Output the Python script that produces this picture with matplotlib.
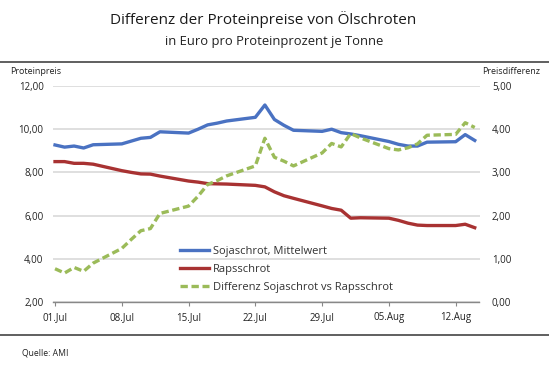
import matplotlib
matplotlib.use("Agg")
import matplotlib.pyplot as plt
import matplotlib.dates as mdates
import numpy as np
import datetime as dt

plt.rcParams['font.family'] = ['Open Sans', 'DejaVu Sans']

dates = ["2019-07-01", "2019-07-02", "2019-07-03", "2019-07-04", "2019-07-05",
         "2019-07-08", "2019-07-09", "2019-07-10", "2019-07-11", "2019-07-12",
         "2019-07-15", "2019-07-16", "2019-07-17", "2019-07-18", "2019-07-19",
         "2019-07-22", "2019-07-23", "2019-07-24", "2019-07-25", "2019-07-26",
         "2019-07-29", "2019-07-30", "2019-07-31", "2019-08-01", "2019-08-02",
         "2019-08-05", "2019-08-06", "2019-08-07", "2019-08-08", "2019-08-09",
         "2019-08-12", "2019-08-13", "2019-08-14"]

soja = [9.27, 9.17, 9.22, 9.13, 9.28,
        9.32, 9.45, 9.58, 9.62, 9.88,
        9.82, 10.00, 10.20, 10.28, 10.38,
        10.55, 11.12, 10.45, 10.18, 9.95,
        9.90, 10.00, 9.84, 9.78, 9.70,
        9.43, 9.30, 9.22, 9.22, 9.40,
        9.42, 9.75, 9.48]

raps = [8.50, 8.50, 8.42, 8.42, 8.38,
        8.08, 8.00, 7.93, 7.92, 7.83,
        7.60, 7.55, 7.48, 7.47, 7.46,
        7.40, 7.33, 7.10, 6.92, 6.80,
        6.45, 6.33, 6.25, 5.88, 5.90,
        5.88, 5.78, 5.65, 5.56, 5.54,
        5.54, 5.60, 5.44]

diff = [0.77, 0.67, 0.80, 0.71, 0.90,
        1.24, 1.45, 1.65, 1.70, 2.05,
        2.22, 2.45, 2.72, 2.81, 2.92,
        3.15, 3.79, 3.35, 3.26, 3.15,
        3.45, 3.67, 3.59, 3.90, 3.80,
        3.55, 3.52, 3.57, 3.66, 3.86,
        3.88, 4.15, 4.04]

labels = ["Sojaschrot, Mittelwert", "Rapsschrot", "Differenz Sojaschrot vs Rapsschrot"]
left_ticks = [2, 4, 6, 8, 10, 12]
right_ticks = [0, 1, 2, 3, 4, 5]
tick_dates = ["2019-07-01", "2019-07-08", "2019-07-15", "2019-07-22",
              "2019-07-29", "2019-08-05", "2019-08-12"]

x = [dt.datetime.strptime(d, "%Y-%m-%d") for d in dates]
xt = [dt.datetime.strptime(d, "%Y-%m-%d") for d in tick_dates]

W, H = 549, 375
fig = plt.figure(figsize=(W / 100, H / 100), dpi=100)

ax_l, ax_r, ax_t, ax_b = 53.3, 479.5, 86, 302
ax = fig.add_axes([ax_l / W, 1 - ax_b / H, (ax_r - ax_l) / W, (ax_b - ax_t) / H])
ax2 = ax.twinx()

blue = "#4A72C2"
red = "#A83232"
green = "#9BBB59"

l1, = ax.plot(x, soja, color=blue, lw=2.4, zorder=3)
l2, = ax.plot(x, raps, color=red, lw=2.4, zorder=3)
l3, = ax2.plot(x, diff, color=green, lw=2.4, linestyle=(0, (2.2, 1.1)), zorder=3)

x0 = mdates.date2num(x[0])
ax.set_xlim(x0 - 0.18, x0 + 44.5)
ax.set_ylim(2, 12)
ax2.set_ylim(0, 5)

ax.set_yticks(left_ticks)
ax.set_yticklabels([f"{v:.2f}".replace(".", ",") for v in left_ticks])
ax2.set_yticks(right_ticks)
ax2.set_yticklabels([f"{v:.2f}".replace(".", ",") for v in right_ticks])
ax.set_xticks(xt)
ax.set_xticklabels([d.strftime("%d.") + ("Jul" if d.month == 7 else "Aug") for d in xt])

for a in (ax, ax2):
    for s in ("top", "right", "left", "bottom"):
        a.spines[s].set_visible(False)
ax.spines["bottom"].set_visible(True)
ax.spines["bottom"].set_color("#888888")
ax.spines["bottom"].set_linewidth(1.0)

ax.grid(axis='y', color="#d9d9d9", lw=1.2, zorder=0)
ax.set_axisbelow(True)
ax.tick_params(axis='y', length=0, pad=7, labelsize=7, colors="#222222")
ax.tick_params(axis='x', length=3, width=0.8, color="#888888", pad=4,
               labelsize=7, labelcolor="#222222")
ax2.tick_params(axis='y', length=0, pad=9, labelsize=7, colors="#222222")

leg = fig.legend([l1, l2, l3], labels, loc='upper left',
                 bbox_to_anchor=(180 / W, 1 - 246 / H), frameon=False,
                 fontsize=8, handlelength=2.6, handletextpad=0.35,
                 labelspacing=0.62, borderpad=0, borderaxespad=0)
for t in leg.get_texts():
    t.set_color("#333333")

fig.text(263 / W, 1 - 19 / H, "Differenz der Proteinpreise von Ölschroten",
         ha='center', va='center', fontsize=11, color="#1a1a1a")
fig.text(274 / W, 1 - 41 / H, "in Euro pro Proteinprozent je Tonne",
         ha='center', va='center', fontsize=9.4, color="#222222")
fig.add_artist(plt.Line2D([0, 1], [1 - 62 / H, 1 - 62 / H], color="#444444", lw=1.2))
fig.add_artist(plt.Line2D([0, 1], [1 - 335 / H, 1 - 335 / H], color="#444444", lw=1.2))
fig.text(10 / W, 1 - 72 / H, "Proteinpreis", ha='left', va='center',
         fontsize=6.5, color="#222222")
fig.text(540 / W, 1 - 72 / H, "Preisdifferenz", ha='right', va='center',
         fontsize=6.5, color="#222222")
fig.text(22 / W, 1 - 353 / H, "Quelle: AMI", ha='left', va='center',
         fontsize=6.2, color="#222222")

fig.savefig("out.png", dpi=100)
